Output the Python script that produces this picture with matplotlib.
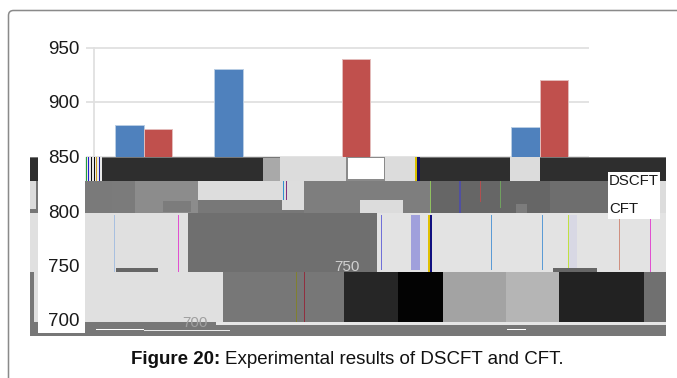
import numpy as np
import matplotlib
matplotlib.use("Agg")
import matplotlib.pyplot as plt
from matplotlib.patches import FancyBboxPatch, Rectangle

# Bar heights per group; nan where the value cannot be read
groups = [1, 2, 3, 4, 5]
dscft = [879, 930, np.nan, np.nan, 877]
cft = [875, np.nan, 939.5, np.nan, 920]
yticks = [700, 750, 800, 850, 900, 950]

W, H = 677, 378
BLUE = "#4f81bd"
RED = "#c0504d"
LABEL_FONT = "Liberation Sans"

# Scrambled band over the lower part of the plot: x0, x1, y0, y1, colour (pixels from top left)
band_blocks = [
    (30, 666, 157, 336, "#777777"),
    # top row
    (30, 38, 158, 181, "#2e2e2e"), (85, 102, 157, 181, "#e8e8e8"), (102, 263, 158, 181, "#2e2e2e"),
    (263, 280, 158, 181, "#a9a9a9"), (280, 346, 157, 181, "#dcdcdc"), (346, 385, 157, 181, "#8a8a8a"),
    (348, 384, 158, 179, "#ffffff"), (385, 415, 157, 181, "#dcdcdc"), (420, 510, 158, 181, "#2e2e2e"),
    (510, 540, 157, 181, "#dcdcdc"), (540, 666, 158, 181, "#2e2e2e"),
    (86, 87, 157, 181, "#20a040"), (88, 89, 157, 181, "#2020d0"), (91, 92, 157, 181, "#101010"),
    (94, 95, 157, 181, "#101010"), (96, 97, 157, 181, "#d0a020"), (99, 100, 157, 181, "#2020a0"),
    (415, 417, 157, 181, "#d8c000"), (417, 420, 157, 181, "#101060"),
    # second row
    (30, 36, 181, 209, "#dcdcdc"), (85, 112, 181, 213, "#7a7a7a"), (112, 135, 181, 213, "#7b7b7b"),
    (135, 198, 181, 213, "#8c8c8c"), (198, 282, 181, 200, "#dddddd"), (282, 304, 181, 210, "#dddddd"),
    (304, 430, 181, 213, "#7e7e7e"), (430, 550, 181, 213, "#666666"), (550, 660, 181, 213, "#6e6e6e"),
    (660, 666, 181, 213, "#dcdcdc"), (198, 282, 200, 213, "#787878"), (360, 403, 200, 213, "#dcdcdc"),
    (163, 191, 201, 212, "#7c7c7c"), (283, 284, 181, 200, "#3090d0"), (286, 287, 181, 200, "#803080"),
    (430, 431, 181, 213, "#90c060"), (459, 461, 181, 213, "#5050a0"), (480, 481, 181, 202, "#b05050"),
    (500, 501, 181, 208, "#70a060"), (516, 527, 204, 213, "#7c7c7c"),
    # third row
    (30, 188, 213, 272, "#e0e0e0"), (188, 377, 213, 272, "#6f6f6f"), (377, 666, 213, 272, "#e3e3e3"),
    (411, 420, 215, 270, "#a0a0dc"), (428, 430, 215, 272, "#e0c000"), (430, 432, 215, 272, "#101080"),
    (178, 179, 215, 272, "#e050d0"), (114, 115, 215, 272, "#a8c0e0"), (116, 158, 268, 272, "#666666"),
    (568, 569, 215, 270, "#c0e040"), (491, 492, 215, 270, "#5b9bd5"), (542, 543, 215, 270, "#5b9bd5"),
    (381, 382, 215, 270, "#7070d8"), (569, 577, 215, 270, "#d8d8e4"), (619, 620, 215, 270, "#d09080"),
    (650, 651, 215, 272, "#e050d0"), (553, 597, 268, 272, "#666666"),
    # fourth row
    (34, 223, 272, 322, "#e0e0e0"), (223, 344, 272, 322, "#777777"), (344, 398, 272, 322, "#262626"),
    (398, 443, 272, 322, "#030303"), (443, 506, 272, 322, "#a3a3a3"), (506, 559, 272, 322, "#b5b5b5"),
    (559, 644, 272, 322, "#222222"), (644, 666, 272, 322, "#707070"),
    (296, 297, 272, 322, "#808030"), (304, 305, 272, 322, "#903040"),
    # strip along the bottom
    (216, 666, 322, 325, "#e6e6e6"), (96, 144, 329, 330, "#ffffff"), (144, 230, 330, 331, "#e8e8e8"),
    (507, 526, 329, 330, "#ffffff"),
]

fig = plt.figure(figsize=(W / 100, H / 100), dpi=100)


def px_axes(x0, x1, y_top, y_bottom, zorder):
    return fig.add_axes([x0 / W, 1 - y_bottom / H, (x1 - x0) / W, (y_bottom - y_top) / H], zorder=zorder)


# Rounded panel border
panel = fig.add_axes([0, 0, 1, 1], zorder=0)
panel.set_xlim(0, W)
panel.set_ylim(H, 0)
panel.axis("off")
panel.add_patch(FancyBboxPatch((8.5, 10.5), W + 30, H + 30, boxstyle="round,pad=0,rounding_size=5",
                               fc="white", ec="#8a8a8a", lw=1.1))

# Bars and grid
ax = px_axes(94, 589, 47.5, 320, 1)
x = np.array(groups, dtype=float)
width = 0.288
ax.bar(x - width / 2, dscft, width, color=BLUE, edgecolor="#b8cde4", linewidth=0.7, zorder=3)
ax.bar(x + width / 2, cft, width, color=RED, edgecolor="#e4bcbb", linewidth=0.7, zorder=3)
ax.set_xlim(0.5, 5.5)
ax.set_ylim(700, 950)
ax.set_yticks(yticks)
ax.set_yticklabels([])
ax.set_xticks([])
ax.grid(axis="y", color="#e0e0e0", lw=1.3)
ax.set_axisbelow(True)
ax.tick_params(axis="y", length=6, color="#e0e0e0", width=1.3)
for s in ["top", "right", "bottom"]:
    ax.spines[s].set_visible(False)
ax.spines["left"].set_color("#e0e0e0")
ax.spines["left"].set_linewidth(1.3)

# Scrambled band and the white boxes that sit on it
band = fig.add_axes([0, 0, 1, 1], zorder=2)
band.set_xlim(0, W)
band.set_ylim(H, 0)
band.axis("off")
for x0, x1, y0, y1, c in band_blocks:
    band.add_patch(Rectangle((x0, y0), x1 - x0, y1 - y0, fc=c, ec="none"))
band.add_patch(Rectangle((38, 157), 47, 176, fc="white", ec="none"))
band.add_patch(Rectangle((608, 172), 52, 47, fc="white", ec="none"))
band.text(195, 323, "700", fontsize=11, color="#a0a0a0", ha="center", va="center", family=LABEL_FONT)
band.text(347, 267, "750", fontsize=11, color="#d0d0d0", ha="center", va="center", family=LABEL_FONT)
band.text(609, 181, "DSCFT", fontsize=10.8, color="#1a1a1a", ha="left", va="center", family=LABEL_FONT)
band.text(609, 209, "CFT", fontsize=10.8, color="#1a1a1a", ha="left", va="center", family=LABEL_FONT)

# Y tick labels above the band
top = px_axes(94, 589, 47.5, 320, 3)
top.patch.set_alpha(0)
top.set_ylim(700, 950)
top.set_yticks(yticks)
top.set_yticklabels([str(v) for v in yticks], fontsize=13.5, color="#1a1a1a", family=LABEL_FONT)
top.set_xticks([])
top.tick_params(axis="y", length=0, pad=10.5)
for s in top.spines.values():
    s.set_visible(False)

# Caption
fig.text(131 / W, 1 - 359 / H, "Figure 20:", fontsize=13.5, fontweight="bold", family="Liberation Sans",
         ha="left", va="center", color="#111111", zorder=5)
fig.text(225 / W, 1 - 359 / H, "Experimental results of DSCFT and CFT.", fontsize=13.5, family="Liberation Sans",
         ha="left", va="center", color="#111111", zorder=5)

fig.savefig("out.png", dpi=100)
